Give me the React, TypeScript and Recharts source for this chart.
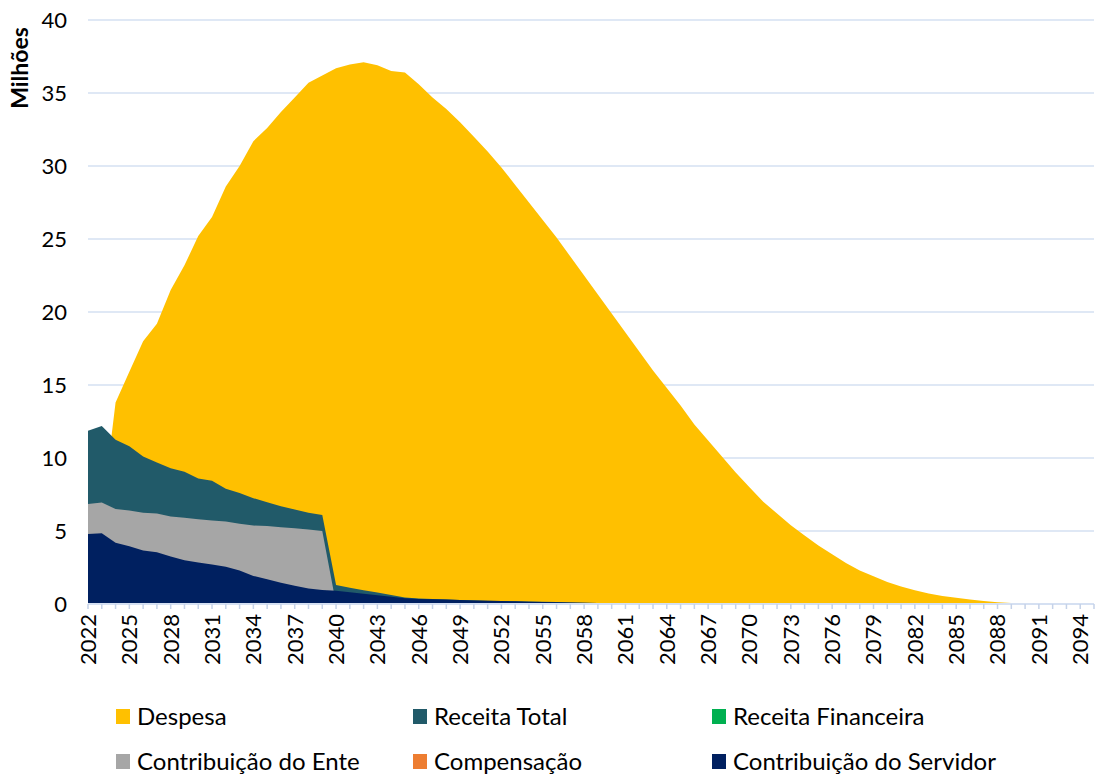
import React from "react";
import { AreaChart, Area, XAxis, YAxis, CartesianGrid } from "recharts";

const years = [
  2022, 2023, 2024, 2025, 2026, 2027, 2028, 2029, 2030, 2031,
  2032, 2033, 2034, 2035, 2036, 2037, 2038, 2039, 2040, 2041,
  2042, 2043, 2044, 2045, 2046, 2047, 2048, 2049, 2050, 2051,
  2052, 2053, 2054, 2055, 2056, 2057, 2058, 2059, 2060, 2061,
  2062, 2063, 2064, 2065, 2066, 2067, 2068, 2069, 2070, 2071,
  2072, 2073, 2074, 2075, 2076, 2077, 2078, 2079, 2080, 2081,
  2082, 2083, 2084, 2085, 2086, 2087, 2088, 2089, 2090, 2091,
  2092, 2093, 2094, 2095,
];

const despesa = [
  8.0, 6.0, 13.8, 15.9, 18.0, 19.2, 21.5, 23.2, 25.2, 26.5,
  28.6, 30.0, 31.7, 32.6, 33.7, 34.7, 35.7, 36.2, 36.7, 36.95,
  37.1, 36.9, 36.5, 36.4, 35.6, 34.7, 33.9, 33.0, 32.0, 31.0,
  29.9, 28.7, 27.5, 26.3, 25.1, 23.8, 22.5, 21.2, 19.9, 18.6,
  17.3, 16.0, 14.8, 13.6, 12.3, 11.2, 10.1, 9.0, 8.0, 7.0,
  6.2, 5.4, 4.7, 4.0, 3.4, 2.8, 2.3, 1.9, 1.5, 1.2,
  0.95, 0.72, 0.55, 0.42, 0.3, 0.2, 0.12, 0.06, 0.02, 0,
  0, 0, 0, 0,
];

const receitaTotal = [
  11.87, 12.2, 11.25, 10.8, 10.1, 9.7, 9.3, 9.05, 8.6, 8.45,
  7.9, 7.6, 7.25, 6.97, 6.7, 6.48, 6.25, 6.1, 1.3, 1.12,
  0.95, 0.78, 0.62, 0.45, 0.38, 0.34, 0.31, 0.28, 0.25, 0.23,
  0.21, 0.19, 0.17, 0.15, 0.13, 0.11, 0.09, 0.07, 0.06, 0.05,
  0.04, 0.03, 0.02, 0.015, 0.01, 0, 0, 0, 0, 0,
  0, 0, 0, 0, 0, 0, 0, 0, 0, 0,
  0, 0, 0, 0, 0, 0, 0, 0, 0, 0,
  0, 0, 0, 0,
];

const receitaFinanceira = [
  0, 0, 0, 0, 0, 0, 0, 0, 0, 0,
  0, 0, 0, 0, 0, 0, 0, 0, 0, 0,
  0, 0, 0, 0, 0, 0, 0, 0, 0, 0,
  0, 0, 0, 0, 0, 0, 0, 0, 0, 0,
  0, 0, 0, 0, 0, 0, 0, 0, 0, 0,
  0, 0, 0, 0, 0, 0, 0, 0, 0, 0,
  0, 0, 0, 0, 0, 0, 0, 0, 0, 0,
  0, 0, 0, 0,
];

const contribEnte = [
  6.85, 6.95, 6.5, 6.4, 6.25, 6.2, 6.0, 5.9, 5.8, 5.72,
  5.65, 5.5, 5.37, 5.35, 5.25, 5.18, 5.1, 5.0, 0, 0,
  0, 0, 0, 0, 0, 0, 0, 0, 0, 0,
  0, 0, 0, 0, 0, 0, 0, 0, 0, 0,
  0, 0, 0, 0, 0, 0, 0, 0, 0, 0,
  0, 0, 0, 0, 0, 0, 0, 0, 0, 0,
  0, 0, 0, 0, 0, 0, 0, 0, 0, 0,
  0, 0, 0, 0,
];

const compensacao = [
  0, 0, 0, 0, 0, 0, 0, 0, 0, 0,
  0, 0, 0, 0, 0, 0, 0, 0, 0, 0,
  0, 0, 0, 0, 0, 0, 0, 0, 0, 0,
  0, 0, 0, 0, 0, 0, 0, 0, 0, 0,
  0, 0, 0, 0, 0, 0, 0, 0, 0, 0,
  0, 0, 0, 0, 0, 0, 0, 0, 0, 0,
  0, 0, 0, 0, 0, 0, 0, 0, 0, 0,
  0, 0, 0, 0,
];

const contribServidor = [
  4.8, 4.85, 4.2, 3.95, 3.67, 3.55, 3.25, 3.0, 2.85, 2.7,
  2.55, 2.3, 1.92, 1.7, 1.46, 1.25, 1.07, 0.96, 0.9, 0.8,
  0.7, 0.6, 0.5, 0.4, 0.35, 0.32, 0.3, 0.27, 0.24, 0.22,
  0.2, 0.18, 0.16, 0.14, 0.12, 0.1, 0.08, 0.07, 0.06, 0.05,
  0.04, 0.03, 0.02, 0.015, 0.01, 0, 0, 0, 0, 0,
  0, 0, 0, 0, 0, 0, 0, 0, 0, 0,
  0, 0, 0, 0, 0, 0, 0, 0, 0, 0,
  0, 0, 0, 0,
];

const yTicks = [0, 5, 10, 15, 20, 25, 30, 35, 40];

const series = [
  { key: "despesa", name: "Despesa", color: "#FFC000" },
  { key: "receitaTotal", name: "Receita Total", color: "#215A69" },
  { key: "receitaFinanceira", name: "Receita Financeira", color: "#00B050" },
  { key: "contribEnte", name: "Contribuição do Ente", color: "#A6A6A6" },
  { key: "compensacao", name: "Compensação", color: "#ED7D31" },
  { key: "contribServidor", name: "Contribuição do Servidor", color: "#002060" },
];

const data = years.map((y, i) => ({
  year: y,
  despesa: despesa[i],
  receitaTotal: receitaTotal[i],
  receitaFinanceira: receitaFinanceira[i],
  contribEnte: contribEnte[i],
  compensacao: compensacao[i],
  contribServidor: contribServidor[i],
}));

const FONT = "Lato, 'Open Sans', sans-serif";

const XTick = (props: any) => {
  const { x, y, payload } = props;
  const v = Number(payload.value);
  if ((v - 2022) % 3 !== 0) return <g />;
  return (
    <g transform={`translate(${x},${y})`}>
      <text
        transform="rotate(-90)"
        x={-3}
        y={0}
        dy="0.36em"
        textAnchor="end"
        fontSize={22}
        fontFamily={FONT}
        fill="#000"
      >
        {payload.value}
      </text>
    </g>
  );
};

const legendRows = [
  [series[0], series[1], series[2]],
  [series[3], series[4], series[5]],
];
const legendCols = [116, 413, 712];
const legendRowY = [716, 761];

export default function App() {
  return (
    <div
      style={{
        position: "absolute",
        left: 0,
        top: 0,
        width: 1096,
        height: 776,
        background: "#fff",
        fontFamily: FONT,
        overflow: "hidden",
      }}
    >
      <AreaChart
        width={1096}
        height={776}
        data={data}
        margin={{ top: 20, right: 2, left: 0, bottom: 92 }}
      >
        <CartesianGrid vertical={false} stroke="#D5E0F2" strokeWidth={1.6} />
        <XAxis
          dataKey="year"
          type="category"
          interval={0}
          height={80}
          tick={<XTick />}
          tickSize={5}
          tickMargin={2}
          axisLine={{ stroke: "#D5E0F2", strokeWidth: 2 }}
          tickLine={{ stroke: "#C5D2E8", strokeWidth: 1.5 }}
        />
        <YAxis
          width={88}
          domain={[0, 40]}
          ticks={yTicks}
          axisLine={false}
          tickLine={false}
          tickSize={0}
          tickMargin={21}
          tick={{ fontSize: 22, fill: "#000", fontFamily: FONT }}
        />
        {series.map((s) => (
          <Area
            key={s.key}
            type="linear"
            dataKey={s.key}
            name={s.name}
            fill={s.color}
            fillOpacity={1}
            stroke="none"
            dot={false}
            activeDot={false}
            isAnimationActive={false}
          />
        ))}
        <text
          transform="translate(28,68) rotate(-90)"
          textAnchor="middle"
          fontSize={23}
          fontWeight="bold"
          fontFamily={FONT}
          fill="#000"
        >
          Milhões
        </text>
      </AreaChart>
      {legendRows.map((row, ri) =>
        row.map((s, ci) => (
          <div
            key={s.key}
            style={{
              position: "absolute",
              left: legendCols[ci],
              top: legendRowY[ri] - 14,
              height: 28,
              display: "flex",
              alignItems: "center",
              whiteSpace: "nowrap",
            }}
          >
            <span
              style={{
                display: "inline-block",
                width: 14,
                height: 15,
                background: s.color,
                marginRight: 7,
              }}
            />
            <span style={{ fontSize: 24, color: "#000", lineHeight: "28px" }}>
              {s.name}
            </span>
          </div>
        ))
      )}
    </div>
  );
}
